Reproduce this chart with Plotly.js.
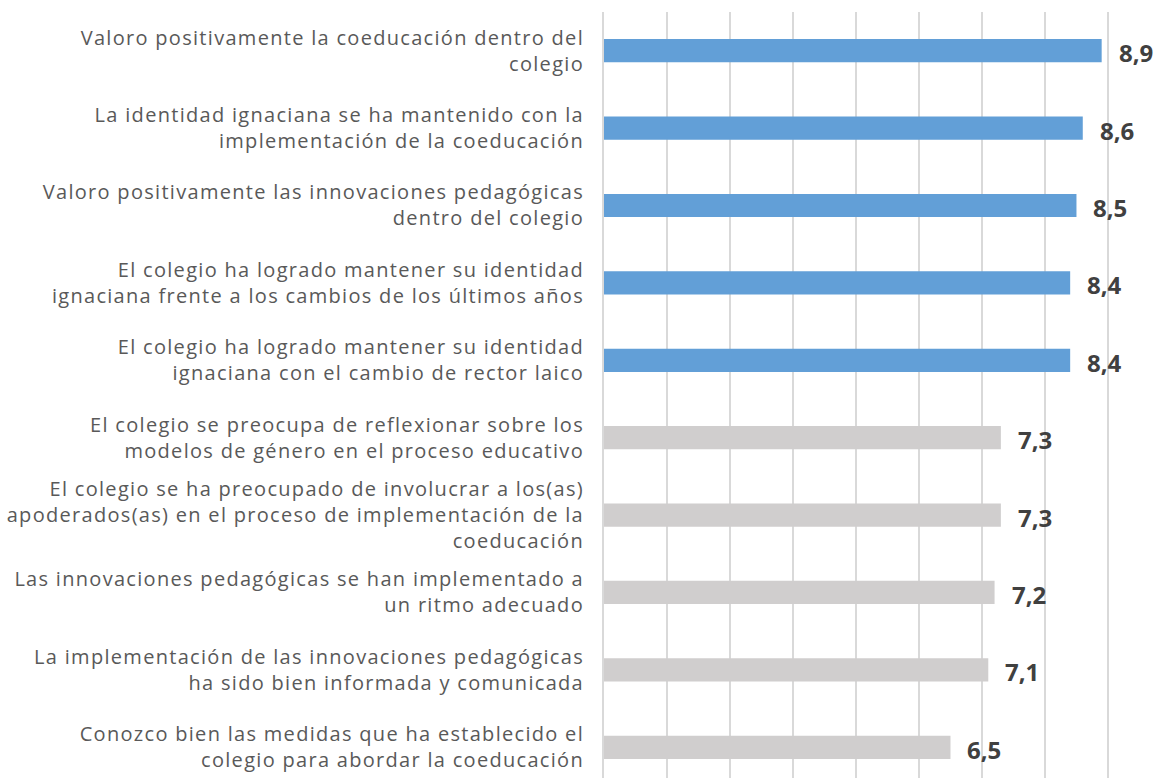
<!DOCTYPE html>
<html>
<head>
<meta charset="utf-8">
<script src="https://cdn.plot.ly/plotly-3.0.1.min.js"></script>
<style>
  html, body { margin: 0; padding: 0; background: #fff; }
  #grafica { width: 1159px; height: 778px; }
  /* la fuente original es más espaciada */
  #grafica .ytick text { letter-spacing: 1.3px; }
</style>
</head>
<body>
<div id="grafica"></div>
<script>
// Afirmaciones (de arriba hacia abajo)
const afirmaciones = [
  'Valoro positivamente la coeducación dentro del<br>colegio',
  'La identidad ignaciana se ha mantenido con la<br>implementación de la coeducación',
  'Valoro positivamente las innovaciones pedagógicas<br>dentro del colegio',
  'El colegio ha logrado mantener su identidad<br>ignaciana frente a los cambios de los últimos años',
  'El colegio ha logrado mantener su identidad<br>ignaciana con el cambio de rector laico',
  'El colegio se preocupa de reflexionar sobre los<br>modelos de género en el proceso educativo',
  'El colegio se ha preocupado de involucrar a los(as)<br>apoderados(as) en el proceso de implementación de la<br>coeducación',
  'Las innovaciones pedagógicas se han implementado a<br>un ritmo adecuado',
  'La implementación de las innovaciones pedagógicas<br>ha sido bien informada y comunicada',
  'Conozco bien las medidas que ha establecido el<br>colegio para abordar la coeducación'
];

// Promedios
const promedios = [8.9, 8.6, 8.5, 8.4, 8.4, 7.3, 7.3, 7.2, 7.1, 6.5];

// Grupo: los cinco primeros en azul, el resto en gris
const destacados = [true, true, true, true, true, false, false, false, false, false];

const azul = '#629fd7';
const gris = '#d0cece';

const barras = {
  type: 'bar',
  orientation: 'h',
  x: promedios,
  y: afirmaciones,
  width: 0.3,
  marker: { color: destacados.map(d => d ? azul : gris) },
  hoverinfo: 'skip'
};

// Etiquetas de valor, con coma decimal
const etiquetas = promedios.map((v, i) => ({
  x: v,
  y: afirmaciones[i],
  xref: 'x',
  yref: 'y',
  text: v.toFixed(1).replace('.', ','),
  showarrow: false,
  xanchor: 'left',
  yanchor: 'middle',
  xshift: 15,
  yshift: -2,
  font: { family: 'Open Sans', size: 24, color: '#404040', weight: 700 }
}));

Plotly.newPlot('grafica', [barras], {
  width: 1159,
  height: 778,
  margin: { l: 604, r: 0, t: 12, b: 0 },
  paper_bgcolor: '#ffffff',
  plot_bgcolor: '#ffffff',
  showlegend: false,
  separators: ', ',
  xaxis: {
    range: [1, 9.81],
    dtick: 1,
    tick0: 1,
    showticklabels: false,
    showgrid: true,
    gridcolor: '#d9d9d9',
    gridwidth: 2,
    zeroline: false,
    showline: false,
    fixedrange: true
  },
  yaxis: {
    type: 'category',
    range: [9.397, -0.5],
    showgrid: false,
    zeroline: false,
    showline: true,
    linecolor: '#d9d9d9',
    linewidth: 2,
    ticks: '',
    ticklabelstandoff: 14,
    tickfont: { family: 'Open Sans', size: 20, color: '#595959' },
    fixedrange: true
  },
  annotations: etiquetas
}, { displayModeBar: false, staticPlot: true });
</script>
</body>
</html>
